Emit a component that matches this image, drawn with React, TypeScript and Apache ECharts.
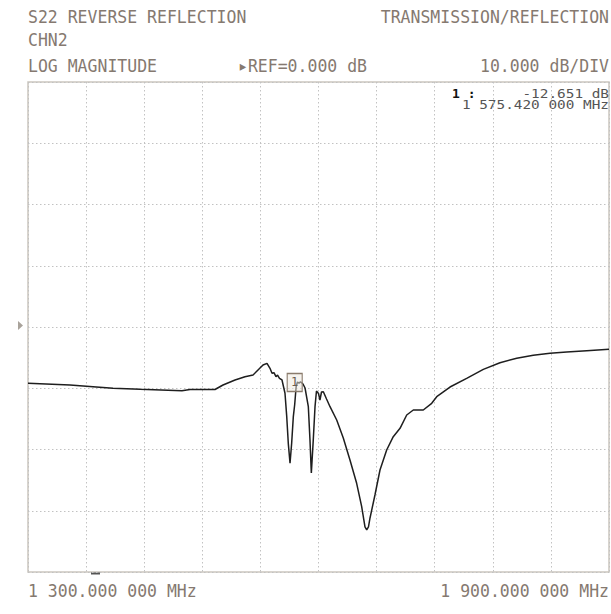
import React, { useEffect, useRef } from "react";
import * as echarts from "echarts";

// Frequency (MHz) and S22 log magnitude (dB)
const freqMHz = [
  1300, 1343.4, 1367.1, 1387.8, 1415.7, 1459.0, 1467.3, 1493.1, 1501.4, 1513.8,
  1524.1, 1532.4, 1542.7, 1546.8, 1549.9, 1552.0, 1554.0, 1556.1, 1557.7, 1559.7,
  1562.3, 1565.4, 1567.2, 1568.8, 1570.6, 1572.3, 1574.0, 1575.42, 1576.9, 1578.3,
  1579.9, 1581.4, 1584.0, 1586.1, 1589.5, 1591.2, 1592.6, 1594.6, 1596.4, 1597.9,
  1600.0, 1601.5, 1603.1, 1605.0, 1608.3, 1611.9, 1618.8, 1625.6, 1632.5, 1639.4,
  1644.6, 1648.0, 1649.8, 1651.6, 1653.2, 1658.3, 1663.5, 1670.4, 1677.2, 1684.2,
  1691.1, 1697.9, 1708.2, 1716.9, 1722.1, 1735.8, 1753.0, 1770.2, 1787.4, 1804.7,
  1821.8, 1839.1, 1856.3, 1877.0, 1900,
];
const s22dB = [
  -9.19, -9.47, -9.75, -10.01, -10.17, -10.40, -10.20, -10.20, -9.47, -8.65,
  -8.11, -7.84, -6.20, -5.93, -6.74, -7.56, -7.46, -8.11, -7.84, -8.38,
  -8.65, -10.82, -14.64, -18.99, -22.25, -18.94, -14.64, -12.651, -9.75, -8.98,
  -9.19, -8.93, -9.31, -9.96, -13.01, -18.45, -23.84, -18.45, -13.01, -10.45,
  -10.86, -11.92, -10.61, -10.56, -11.76, -13.01, -15.18, -18.12, -21.71, -25.52,
  -29.34, -32.65, -33.14, -32.65, -31.18, -27.43, -23.35, -20.08, -17.91, -16.54,
  -14.37, -13.55, -13.55, -12.46, -11.38, -9.80, -8.38, -6.91, -5.83, -5.11,
  -4.62, -4.29, -4.08, -3.87, -3.64,
];

const startMHz = 1300;
const stopMHz = 1900;
const refDb = 0;
const dbPerDiv = 10;
const markerFreq = 1575.42;
const markerDb = -12.651;

const headerLeft = "S22 REVERSE REFLECTION";
const headerRight = "TRANSMISSION/REFLECTION";
const channel = "CHN2";
const format = "LOG MAGNITUDE";
const refText = "\u25B8REF=0.000 dB";
const scaleText = "10.000 dB/DIV";
const startLabel = "1 300.000 000 MHz";
const stopLabel = "1 900.000 000 MHz";
const markerLine1Value = "-12.651 dB";
const markerLine2 = "1 575.420 000 MHz";

export default function App() {
  const ref = useRef<HTMLDivElement>(null);
  useEffect(() => {
    const chart = echarts.init(ref.current!, null, { renderer: "svg" });
    const mono = "DejaVu Sans Mono";
    const txtColor = "#857970";
    const hdr = (text: string, x: number, y: number, align: string) => ({
      type: "text",
      x,
      y,
      scaleY: 1.12,
      style: {
        text,
        fill: txtColor,
        font: `16.5px "${mono}"`,
        align,
        verticalAlign: "middle",
      },
    });
    const data = freqMHz.map((f, i) => [f, s22dB[i]]);
    const gridLine = { show: true, lineStyle: { color: "#c2c2c2", type: [1.5, 2.5], width: 1 } };
    chart.setOption({
      animation: false,
      backgroundColor: "#ffffff",
      grid: {
        left: 28,
        top: 82,
        width: 581,
        height: 490,
        show: true,
        borderColor: "#cbc6be",
        borderWidth: 1.5,
        backgroundColor: "transparent",
      },
      xAxis: {
        type: "value",
        min: startMHz,
        max: stopMHz,
        interval: (stopMHz - startMHz) / 10,
        axisLine: { show: false },
        axisTick: { show: false },
        axisLabel: { show: false },
        splitLine: gridLine,
      },
      yAxis: {
        type: "value",
        min: refDb - 4 * dbPerDiv,
        max: refDb + 4 * dbPerDiv,
        interval: dbPerDiv,
        axisLine: { show: false },
        axisTick: { show: false },
        axisLabel: { show: false },
        splitLine: gridLine,
      },
      series: [
        {
          type: "line",
          data,
          symbol: "none",
          lineStyle: { color: "#1e1e1e", width: 1.5 },
          markPoint: {
            symbol: "rect",
            symbolSize: [15, 18],
            symbolOffset: [0, -22],
            itemStyle: { color: "rgba(238,232,222,0.5)", borderColor: "#8a7b6c", borderWidth: 1.2 },
            label: { show: true, formatter: "1", color: "#6a5c50", fontSize: 12, fontFamily: mono },
            data: [{ coord: [markerFreq, markerDb] }],
          },
        },
      ],
      graphic: [
        hdr(headerLeft, 28, 17, "left"),
        hdr(headerRight, 609, 17, "right"),
        hdr(channel, 28, 40, "left"),
        hdr(format, 28, 66, "left"),
        hdr(refText, 238, 66, "left"),
        hdr(scaleText, 609, 66, "right"),
        hdr(startLabel, 28, 591, "left"),
        hdr(stopLabel, 609, 591, "right"),
        {
          type: "text",
          x: 452,
          y: 93,
          style: { text: "1 :", fill: "#111", font: `bold 13px "${mono}"`, align: "left", verticalAlign: "middle" },
        },
        {
          type: "text",
          x: 609,
          y: 93,
          scaleX: 1.15,
          style: { text: markerLine1Value, fill: "#555", font: `12.5px "${mono}"`, align: "right", verticalAlign: "middle" },
        },
        {
          type: "text",
          x: 609,
          y: 104,
          scaleX: 1.15,
          style: { text: markerLine2, fill: "#555", font: `12.5px "${mono}"`, align: "right", verticalAlign: "middle" },
        },
        {
          type: "polygon",
          shape: { points: [[18, 321], [23, 325.5], [18, 330]] },
          style: { fill: "#a9a39b" },
        },
        {
          type: "line",
          shape: { x1: 91, y1: 573.5, x2: 100, y2: 573.5 },
          style: { stroke: "#555", lineWidth: 2 },
        },
      ],
    });
    return () => chart.dispose();
  }, []);
  return (
    <div
      ref={ref}
      style={{ position: "absolute", left: 0, top: 0, width: 611, height: 614, background: "#fff" }}
    />
  );
}
